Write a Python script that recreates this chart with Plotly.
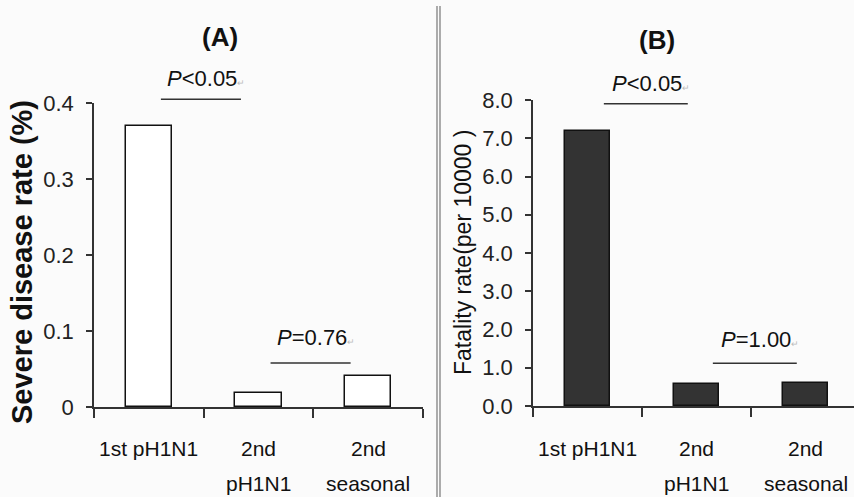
import plotly.graph_objects as go

# ---- data ----
categories = ["1st pH1N1", "2nd pH1N1", "2nd seasonal"]
category_lines = [["1st pH1N1"], ["2nd", "pH1N1"], ["2nd", "seasonal"]]
severe_rate = [0.37, 0.019, 0.041]          # Severe disease rate (%)
fatality_rate = [7.18, 0.57, 0.61]          # Fatality rate (per 10000)
severe_ticks = [0, 0.1, 0.2, 0.3, 0.4]
severe_ticktext = ["0", "0.1", "0.2", "0.3", "0.4"]
fatality_ticks = [0, 1, 2, 3, 4, 5, 6, 7, 8]
fatality_ticktext = ["0.0", "1.0", "2.0", "3.0", "4.0", "5.0", "6.0", "7.0", "8.0"]
comparisons_a = [(0, 1, "<i>P</i>&lt;0.05"), (1, 2, "<i>P</i>=0.76")]
comparisons_b = [(0, 1, "<i>P</i>&lt;0.05"), (1, 2, "<i>P</i>=1.00")]

# ---- layout config ----
W, H = 854, 497
FONT = "Liberation Sans, Arial, sans-serif"
xs = list(range(len(categories)))

dom_ax = [94 / W, 423 / W]
dom_ay = [(H - 407) / H, (H - 103) / H]
dom_bx = [533 / W, 1.0]
dom_by = [(H - 406) / H, (H - 100) / H]
range_ay = [0, 0.4]
range_by = [0, 8]
range_bx = [-0.5, -0.5 + (W - 533) / 109.0]

def to_paper(v, rng, dom):
    return dom[0] + (v - rng[0]) / (rng[1] - rng[0]) * (dom[1] - dom[0])

fig = go.Figure()
fig.add_trace(go.Bar(x=xs, y=severe_rate, width=0.42, marker=dict(color="white", line=dict(color="#111", width=1.5)),
                     xaxis="x", yaxis="y", showlegend=False, hoverinfo="skip"))
fig.add_trace(go.Bar(x=xs, y=fatality_rate, width=0.41, marker=dict(color="#333333", line=dict(color="#111", width=1.5)),
                     xaxis="x2", yaxis="y2", showlegend=False, hoverinfo="skip"))

axis_common = dict(showgrid=False, zeroline=False, showline=True, linecolor="#333", linewidth=1.5,
                   ticks="outside", tickcolor="#333", tickwidth=1.5, fixedrange=True, automargin=False)

fig.update_layout(
    width=W, height=H, margin=dict(l=0, r=0, t=0, b=0, pad=0, autoexpand=False),
    paper_bgcolor="#fbfbfb", plot_bgcolor="rgba(0,0,0,0)",
    font=dict(family=FONT, color="#111"),
    bargap=0, showlegend=False,
    xaxis=dict(domain=dom_ax, range=[-0.5, 2.5], tickvals=[-0.5, 0.5, 1.5, 2.5], showticklabels=False,
               ticklen=9, anchor="y", **axis_common),
    yaxis=dict(domain=dom_ay, range=range_ay, tickvals=severe_ticks, ticktext=severe_ticktext,
               ticklen=6, tickfont=dict(size=22, family=FONT, color="#222"), ticklabelstandoff=8,
               anchor="x", **axis_common),
    xaxis2=dict(domain=dom_bx, range=range_bx, tickvals=[-0.5, 0.5, 1.5, 2.5], showticklabels=False,
                ticklen=9, anchor="y2", **axis_common),
    yaxis2=dict(domain=dom_by, range=range_by, tickvals=fatality_ticks, ticktext=fatality_ticktext,
                ticklen=6, tickfont=dict(size=22, family=FONT, color="#222"), ticklabelstandoff=8,
                anchor="x2", **axis_common),
)

ann = []
shapes = []
C = dict(xanchor="center", yanchor="middle", showarrow=False)

# panel titles
ann.append(dict(text="<b>(A)</b>", x=220 / W, y=(H - 37) / H, xref="paper", yref="paper",
                font=dict(size=26, family=FONT, color="#111"), **C))
ann.append(dict(text="<b>(B)</b>", x=657 / W, y=(H - 40) / H, xref="paper", yref="paper",
                font=dict(size=26, family=FONT, color="#111"), **C))

# y-axis titles
ann.append(dict(text="<b>Severe disease rate (%)</b>", x=22 / W, y=(H - 262) / H, xref="paper", yref="paper",
                textangle=-90, font=dict(size=29, family=FONT, color="#111"), **C))
ann.append(dict(text="Fatality rate(per 10000 )", x=463 / W, y=(H - 253) / H, xref="paper", yref="paper",
                textangle=-90, font=dict(size=23, family=FONT, color="#111"), **C))

# category labels
for xr in ("x", "x2"):
    for i, lines in enumerate(category_lines):
        for k, line in enumerate(lines):
            ann.append(dict(text=line, x=xs[i], xref=xr, y=(H - (448 + 35 * k)) / H, yref="paper",
                            font=dict(size=21, family=FONT, color="#111"), **C))

mark = "<span style='font-size:9px;color:#bbb'>\u21b5</span>"

# comparison brackets: (bracket height, text height) in data units
brackets_a = [(0.405, 0.432), (0.058, 0.091)]
brackets_b = [(7.9, 8.44), (1.12, 1.75)]

def add_comparisons(comps, brs, xr, rng, dom, offs):
    for (i, j, label), (ly, ty) in zip(comps, brs):
        x0, x1 = i + offs[0], j - offs[1]
        shapes.append(dict(type="line", xref=xr, yref="paper", x0=x0, x1=x1,
                           y0=to_paper(ly, rng, dom), y1=to_paper(ly, rng, dom),
                           line=dict(color="#333", width=1.5)))
        ann.append(dict(text=label + mark, x=(x0 + x1) / 2 + 0.05, xref=xr, y=to_paper(ty, rng, dom), yref="paper",
                        font=dict(size=22, family=FONT, color="#111"), **C))

add_comparisons(comparisons_a, brackets_a, "x", range_ay, dom_ay, (0.11, 0.16))
add_comparisons(comparisons_b, brackets_b, "x2", range_by, dom_by, (0.15, 0.08))

# double divider between panels
for px in (437, 440):
    shapes.append(dict(type="line", xref="paper", yref="paper", x0=px / W, x1=px / W, y0=0, y1=(H - 6) / H,
                       line=dict(color="#777", width=1.2)))

fig.update_layout(annotations=ann, shapes=shapes)
fig.write_html("out.html", config={"displayModeBar": False},
               post_script="document.body.style.margin='0';document.body.style.overflow='hidden';")
